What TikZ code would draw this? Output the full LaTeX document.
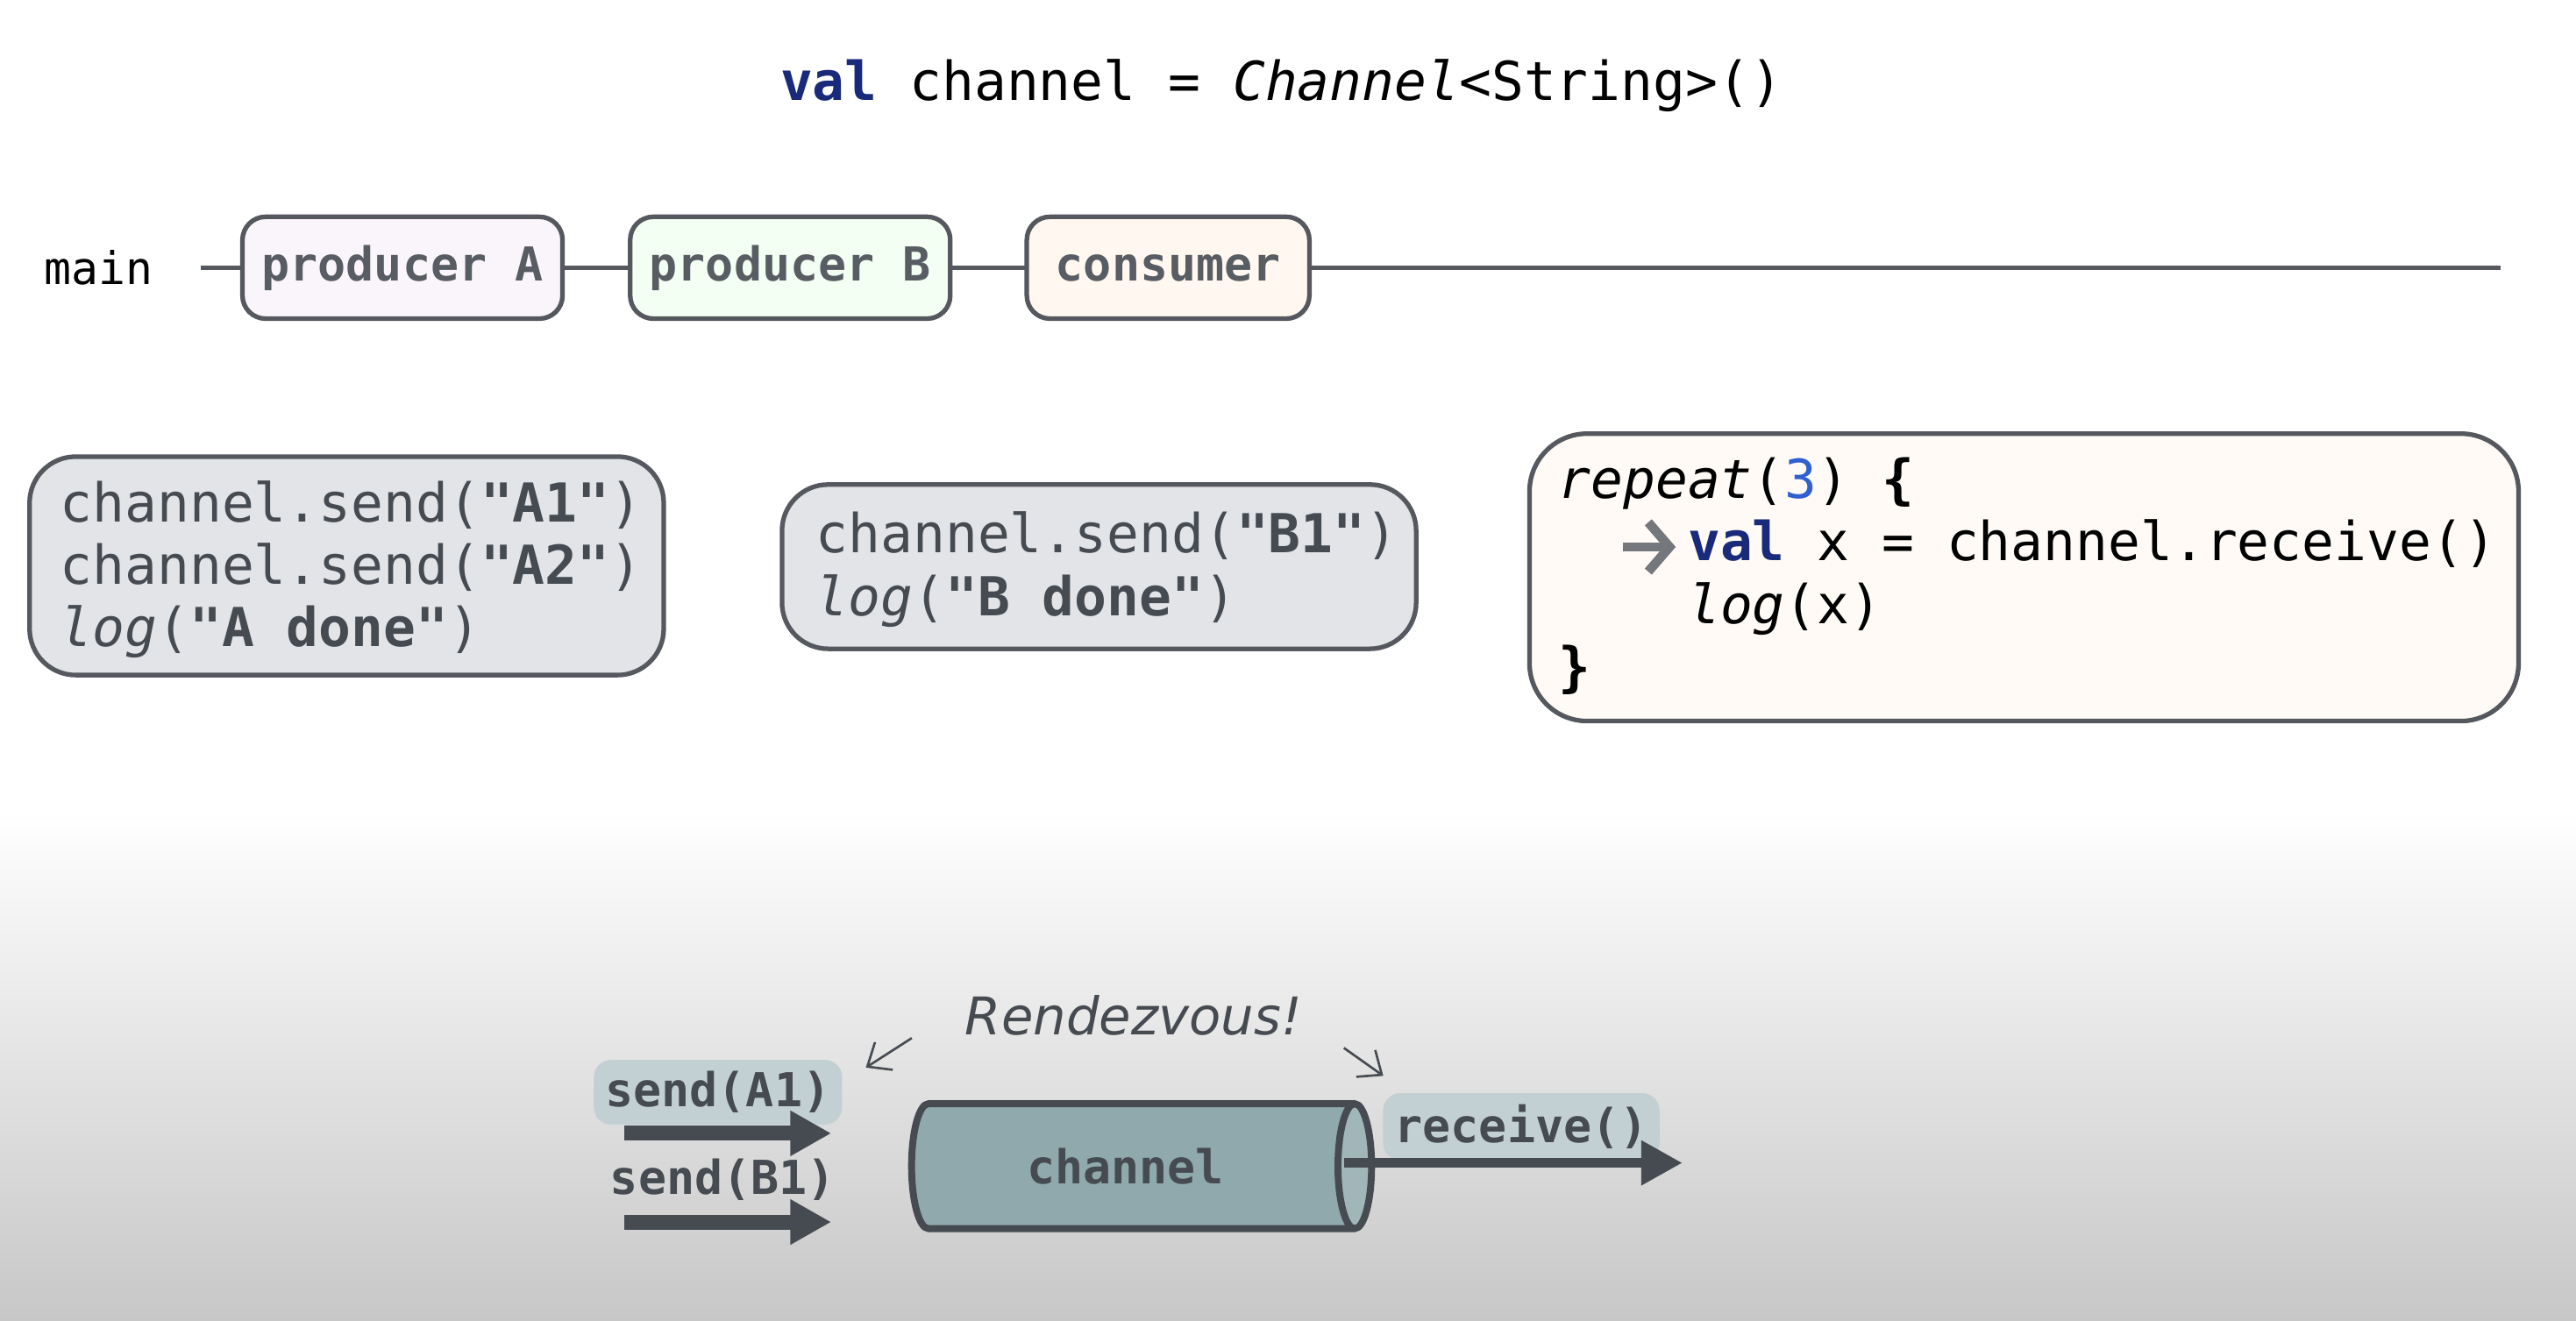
\documentclass[tikz,border=0pt]{standalone}
\usepackage{fontspec}
\setmainfont{DejaVu Sans}
\setmonofont{DejaVu Sans Mono}
\usetikzlibrary{arrows.meta,positioning,shapes.geometric}
\definecolor{kwblue}{HTML}{1A2A7A}
\definecolor{numblue}{HTML}{2F5FD0}
\definecolor{codegray}{HTML}{E3E4E7}
\definecolor{edgegray}{HTML}{55585E}
\definecolor{darkgray}{HTML}{464B52}
\definecolor{tealfill}{HTML}{8FA9AD}
\definecolor{tagfill}{HTML}{C3D0D3}
\newcommand{\kw}[1]{\textcolor{kwblue}{\textbf{#1}}}
\tikzset{
  task/.style={draw=edgegray,thick,rounded corners=4pt,minimum width=1.94cm,
    minimum height=0.62cm,font=\ttfamily\bfseries\fontsize{8.1}{9}\selectfont,text=darkgray!90},
  code/.style={align=left,font=\ttfamily\fontsize{9.3}{10.8}\selectfont,text=darkgray,anchor=north west,
    inner sep=0pt},
  tag/.style={fill=tagfill,rounded corners=3pt,inner sep=2pt,
    font=\ttfamily\bfseries\fontsize{8.1}{9}\selectfont,text=darkgray},
  flow/.style={darkgray,line width=2.6pt,-{Triangle[length=0.25cm,width=0.26cm]}},
  hint/.style={darkgray,thin,-{Straight Barb[length=1.2mm,width=2mm]}}
}
\begin{document}
\begin{tikzpicture}
\useasboundingbox (0,0) rectangle (15.68,8.04);
\shade[top color=white,bottom color=black!22] (0,0) rectangle (15.68,3.1);
\fill[white] (0,3.1) rectangle (15.68,8.04);
% title
\node[font=\ttfamily\fontsize{9.3}{11}\selectfont] (title) at (7.8,7.52)
  {\kw{val} channel = \textit{Channel}<String>()};
% timeline
\node[font=\ttfamily\fontsize{7.8}{9}\selectfont] (main) at (0.6,6.41) {main};
\coordinate (tstart) at (1.22,6.41);
\coordinate (tend) at (15.22,6.41);
\draw[edgegray,thick] (tstart) -- (tend);
\node[task,fill=violet!4] (prodA) at (2.45,6.41) {producer A};
\node[task,fill=green!5] (prodB) at (4.81,6.41) {producer B};
\node[task,fill=orange!6,minimum width=1.72cm] (cons) at (7.11,6.41) {consumer};
% code blocks
\draw[edgegray,thick,fill=codegray,rounded corners=8pt] (0.18,3.93) rectangle (4.04,5.26);
\node[code] (codeA) at (0.36,5.12)
  {channel.send(\textbf{"A1"})\\channel.send(\textbf{"A2"})\\\textit{log}(\textbf{"A done"})};
\draw[edgegray,thick,fill=codegray,rounded corners=8pt] (4.76,4.09) rectangle (8.62,5.09);
\node[code] (codeB) at (4.96,4.93)
  {channel.send(\textbf{"B1"})\\\textit{log}(\textbf{"B done"})};
\draw[edgegray,thick,fill=orange!4,rounded corners=10pt] (9.31,3.65) rectangle (15.33,5.40);
\node[code,text=black] (codeC) at (9.48,5.26)
  {\textit{repeat}(\textcolor{numblue}{3}) \textbf{\{}\\
   \hspace*{4\fontcharwd\font`0}\kw{val} x = channel.receive()\\
   \hspace*{4\fontcharwd\font`0}\textit{log}(x)\\
   \textbf{\}}};
\coordinate (cur0) at (9.88,4.71);
\coordinate (cur1) at (10.2,4.71);
\draw[darkgray!75,line width=1.6pt,-{Straight Barb[length=1.3mm,width=3mm]}] (cur0) -- (cur1);
% rendezvous
\node[tag] (sendA) at (4.37,1.39) {send(A1)};
\node[tag,fill=none] (sendB) at (4.40,0.86) {send(B1)};
\coordinate (sA0) at (3.8,1.14);
\coordinate (sA1) at (5.06,1.14);
\coordinate (sB0) at (3.8,0.60);
\coordinate (sB1) at (5.06,0.60);
\draw[flow] (sA0) -- (sA1);
\draw[flow] (sB0) -- (sB1);
\node[cylinder,draw=darkgray,very thick,cylinder uses custom fill,
  cylinder body fill=tealfill,cylinder end fill=tealfill!85,
  minimum width=0.76cm,minimum height=2.8cm,shape aspect=0.45,
  font=\ttfamily\bfseries\fontsize{8.1}{9}\selectfont,text=darkgray] (chan) at (6.85,0.94) {channel};
\node[tag] (recv) at (9.26,1.18) {receive()};
\coordinate (r0) at (8.18,0.96);
\coordinate (r1) at (10.24,0.96);
\draw[flow,line width=1.6pt] (r0) -- (r1);
\node[font=\itshape\fontsize{9}{10}\selectfont,text=darkgray] (rdv) at (6.9,1.86) {Rendezvous!};
\coordinate (hA0) at (5.55,1.72);
\coordinate (hA) at (5.27,1.54);
\coordinate (hB0) at (8.18,1.66);
\coordinate (hB) at (8.42,1.49);
\draw[hint] (hA0) -- (hA);
\draw[hint] (hB0) -- (hB);
\end{tikzpicture}
\end{document}
